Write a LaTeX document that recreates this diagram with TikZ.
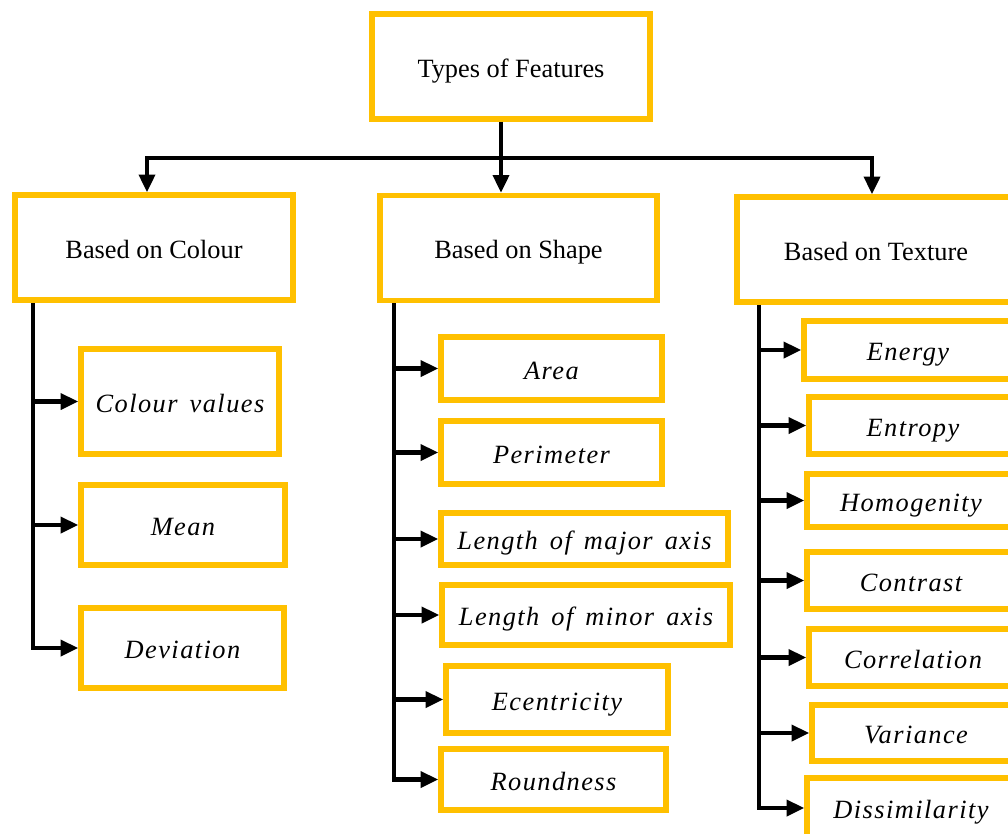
\documentclass[tikz,border=0pt]{standalone}
\usepackage{fontspec}
\setmainfont{Liberation Serif}
\newfontfamily\featfont[LetterSpace=5.5,WordSpace=1.5]{Liberation Serif}
\usepackage{tikz}
\usetikzlibrary{arrows.meta}
\definecolor{featgold}{HTML}{FFC000}

\begin{document}
\begin{tikzpicture}[x=0.02cm,y=-0.02cm,
    box/.style={draw=featgold,line width=3.2pt,fill=white,inner sep=0pt,
        text height=12pt,text depth=0pt,font=\fontsize{15}{18}\selectfont},
    head/.style={box,minimum width=5.56cm,minimum height=2.1cm},
    leaf/.style={box,font=\fontsize{15}{18}\selectfont\featfont\itshape},
    conn/.style={line width=2.3pt,line join=miter},
    arr/.style={conn,-{Triangle[length=10pt,width=9pt]}}]
    \useasboundingbox (0,0) rectangle (1008,833);

    % top and the three groups
    \node[head] (types) at (511,66.5) {Types of Features};
    \node[head] (colour) at (154,247.5) {Based on Colour};
    \node[head,minimum width=5.54cm] (shape) at (518.5,248) {Based on Shape};
    \node[head] (texture) at (876,249.5) {Based on Texture};

    % colour features
    \node[leaf,minimum width=3.96cm,minimum height=2.1cm] (cval) at (180,401.5) {Colour values};
    \node[leaf,minimum width=4.08cm,minimum height=1.6cm] (mean) at (183,525) {Mean};
    \node[leaf,minimum width=4.06cm,minimum height=1.6cm] (dev) at (182.5,648) {Deviation};

    % shape features
    \node[leaf,minimum width=4.42cm,minimum height=1.26cm] (area) at (551.5,368.5) {Area};
    \node[leaf,minimum width=4.42cm,minimum height=1.26cm] (perim) at (551.5,452.5) {Perimeter};
    \node[leaf,minimum width=5.74cm,minimum height=1.04cm] (major) at (584.5,539) {Length of major axis};
    \node[leaf,minimum width=5.76cm,minimum height=1.2cm] (minor) at (586,615) {Length of minor axis};
    \node[leaf,minimum width=4.44cm,minimum height=1.34cm] (ecc) at (557,699.5) {Ecentricity};
    \node[leaf,minimum width=4.5cm,minimum height=1.22cm] (round) at (553.5,779.5) {Roundness};

    % texture features
    \node[leaf,minimum width=4.16cm,minimum height=1.16cm] (energy) at (908,350) {Energy};
    \node[leaf,minimum width=4.16cm,minimum height=1.14cm] (entropy) at (913,425.5) {Entropy};
    \node[leaf,minimum width=4.16cm,minimum height=1.06cm] (homog) at (911,500.5) {Homogenity};
    \node[leaf,minimum width=4.16cm,minimum height=1.14cm] (contrast) at (911,580.5) {Contrast};
    \node[leaf,minimum width=4.16cm,minimum height=1.14cm] (correl) at (913,657.5) {Correlation};
    \node[leaf,minimum width=4.16cm,minimum height=1.12cm] (variance) at (916,733) {Variance};
    \node[leaf,minimum width=4.16cm,minimum height=1.2cm] (dissim) at (911,808) {Dissimilarity};

    % bus below the top box
    \coordinate (busL) at (147,158);
    \coordinate (busM) at (501,158);
    \coordinate (busR) at (872,158);
    \draw[arr] (types.south -| busM) -- (busM |- shape.north);
    \draw[arr] (busM) -| (busL |- colour.north);
    \draw[arr] (busM) -| (busR |- texture.north);

    % spines
    \coordinate (spC) at (33,0);
    \coordinate (spS) at (394,0);
    \coordinate (spT) at (759,0);
    \draw[arr] (colour.south -| spC) |- (dev.west);
    \draw[arr] (shape.south -| spS) |- (round.west);
    \draw[arr] (texture.south -| spT) |- (dissim.west);
    \foreach \n in {cval,mean}
        \draw[arr] (spC |- \n.west) -- (\n.west);
    \foreach \n in {area,perim,major,minor,ecc}
        \draw[arr] (spS |- \n.west) -- (\n.west);
    \foreach \n in {energy,entropy,homog,contrast,correl,variance}
        \draw[arr] (spT |- \n.west) -- (\n.west);
\end{tikzpicture}
\end{document}
